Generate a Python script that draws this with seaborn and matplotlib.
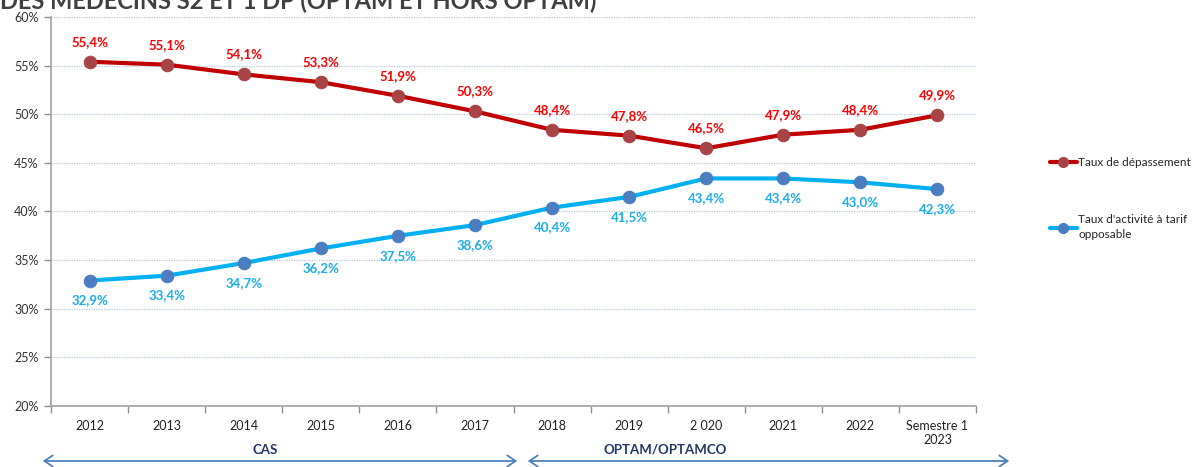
import matplotlib
matplotlib.use("Agg")
import matplotlib.pyplot as plt
import seaborn as sns
import pandas as pd
import numpy as np
from matplotlib.lines import Line2D

categories = ["2012", "2013", "2014", "2015", "2016", "2017", "2018", "2019",
              "2 020", "2021", "2022", "Semestre 1\n2023"]
depassement = [55.4, 55.1, 54.1, 53.3, 51.9, 50.3, 48.4, 47.8, 46.5, 47.9, 48.4, 49.9]
tarif_opposable = [32.9, 33.4, 34.7, 36.2, 37.5, 38.6, 40.4, 41.5, 43.4, 43.4, 43.0, 42.3]
series_names = ["Taux de dépassement", "Taux d'activité à tarif\nopposable"]
y_ticks = [20, 25, 30, 35, 40, 45, 50, 55, 60]
title_text = "DES MÉDECINS S2 ET 1 DP (OPTAM ET HORS OPTAM)"
periods = ["CAS", "OPTAM/OPTAMCO"]

sns.set_theme(style="white")
plt.rcParams["font.family"] = ["Lato", "DejaVu Sans"]

W, H = 1198, 467
fig = plt.figure(figsize=(W / 100, H / 100), dpi=100)
ax = fig.add_axes([51 / W, 1 - 406 / H, (976 - 51) / W, (406 - 17) / H])

x = np.arange(len(categories))
df = pd.DataFrame({
    "x": np.concatenate([x, x]),
    "val": depassement + tarif_opposable,
    "serie": [series_names[0]] * len(x) + [series_names[1]] * len(x),
})

line_colors = {series_names[0]: "#C00000", series_names[1]: "#00B0F0"}
marker_colors = {series_names[0]: "#A84444", series_names[1]: "#4A7EC0"}
label_colors = {series_names[0]: "#FF0000", series_names[1]: "#1AAEEB"}

for name in series_names:
    sub = df[df["serie"] == name]
    sns.lineplot(data=sub, x="x", y="val", ax=ax, color=line_colors[name],
                 linewidth=3, marker="o", markersize=9,
                 markerfacecolor=marker_colors[name], markeredgecolor=marker_colors[name],
                 legend=False, zorder=3)

for xi, v in zip(x, depassement):
    ax.annotate(f"{v:.1f}%".replace(".", ","), (xi, v), xytext=(0, 10),
                textcoords="offset points", ha="center", va="bottom",
                color=label_colors[series_names[0]], fontsize=9.5, fontweight="bold")
for xi, v in zip(x, tarif_opposable):
    ax.annotate(f"{v:.1f}%".replace(".", ","), (xi, v), xytext=(0, -10),
                textcoords="offset points", ha="center", va="top",
                color=label_colors[series_names[1]], fontsize=9.5, fontweight="bold")

ax.set_xlim(-0.5, len(categories) - 0.5)
ax.set_ylim(20, 60)
ax.set_yticks(y_ticks)
ax.set_yticklabels([f"{t}%" for t in y_ticks], fontsize=9, color="#333333")
ax.set_xticks(x)
ax.set_xticklabels(categories, fontsize=9, color="#222222")
ax.set_xticks(np.arange(-0.5, len(categories), 1), minor=True)
ax.tick_params(axis="x", which="major", length=0, pad=10)
ax.tick_params(axis="x", which="minor", length=5, color="#909090", width=1, direction="out", bottom=True)
ax.tick_params(axis="y", which="major", length=5, color="#909090", width=1, direction="out", left=True, pad=4)
ax.set_xlabel("")
ax.set_ylabel("")
ax.yaxis.grid(True, linestyle=(0, (1, 1)), color="#B8C8E0", linewidth=0.9)
ax.xaxis.grid(False)
for s in ["top", "right"]:
    ax.spines[s].set_visible(False)
for s in ["left", "bottom"]:
    ax.spines[s].set_color("#A0A0A0")
    ax.spines[s].set_linewidth(1.2)

# Legend
handles = [Line2D([0], [0], color=line_colors[n], linewidth=3, marker="o", markersize=7,
                  markerfacecolor=marker_colors[n], markeredgecolor=marker_colors[n])
           for n in series_names]
leg = fig.legend(handles, series_names, loc="upper left", bbox_to_anchor=(1044 / W, 1 - 151 / H),
                 frameon=False, fontsize=8.5, handlelength=2.3, handletextpad=0.1,
                 labelspacing=3.9, borderpad=0)
for t in leg.get_texts():
    t.set_linespacing(1.5)

# Title (cropped at top, as in the source)
fig.text(0.0, 1 - 8 / H, title_text, fontsize=17, fontweight="bold", color="#404040",
         ha="left", va="baseline")

# Period arrows
arrow_color = "#4F81BD"
fig.add_artist(matplotlib.patches.FancyArrowPatch(
    (40 / W, 1 - 461 / H), (520 / W, 1 - 461 / H), transform=fig.transFigure,
    arrowstyle="<->,head_length=6,head_width=4", color=arrow_color, linewidth=1.3))
fig.add_artist(matplotlib.patches.FancyArrowPatch(
    (525 / W, 1 - 461 / H), (1012 / W, 1 - 461 / H), transform=fig.transFigure,
    arrowstyle="<->,head_length=6,head_width=4", color=arrow_color, linewidth=1.3))
fig.text(265 / W, 1 - 450 / H, periods[0], fontsize=9.5, fontweight="bold", color="#1F3864",
         ha="center", va="center")
fig.text(665 / W, 1 - 449 / H, periods[1], fontsize=9.5, fontweight="bold", color="#1F3864",
         ha="center", va="center")

fig.savefig("out.png", dpi=100)
